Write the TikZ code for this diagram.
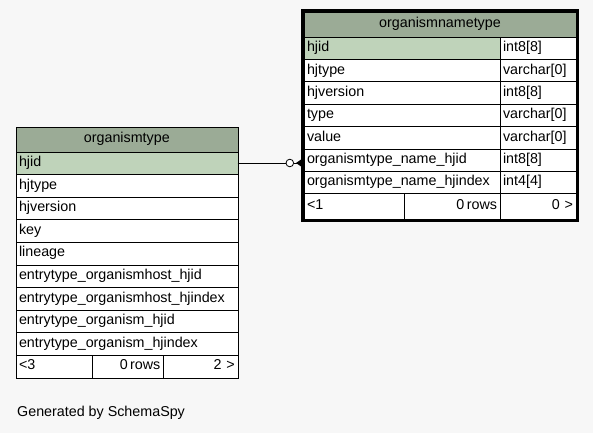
\documentclass[tikz,border=0pt]{standalone}
\usepackage{fontspec}
\setmainfont{Liberation Sans}
\usetikzlibrary{positioning}
\definecolor{hdrgreen}{RGB}{155,171,150}
\definecolor{pkgreen}{RGB}{191,211,186}
\definecolor{bggray}{RGB}{247,247,247}

\begin{document}
\begin{tikzpicture}[
  x=1pt, y=-1pt,
  cell/.style={draw, fill=white, inner xsep=3pt, inner ysep=0pt, outer sep=0pt,
    text height=10pt, text depth=3pt, align=left, font=\fontsize{14.3}{16}\selectfont},
  lhead/.style={cell, fill=hdrgreen, align=center, text width=215.7pt, minimum height=24.7pt},
  lrow/.style={cell, text width=215.7pt, minimum height=22.6pt},
  rhead/.style={cell, fill=hdrgreen, align=center, text width=266pt, minimum height=25pt},
  rname/.style={cell, text width=190pt, minimum height=22.35pt},
  rtype/.style={cell, text width=70pt, minimum height=22.35pt},
  foot/.style={cell, minimum height=#1},
  node distance=0pt
]
\fill[bggray] (0,0) rectangle (593,433);
\useasboundingbox (0,0) rectangle (593,433);

% organismtype
\node[lhead] (othdr) at (16,127) [anchor=north west] {organismtype};
\node[lrow, fill=pkgreen, below=of othdr] (otid)  {hjid};
\node[lrow, below=of otid]     (ottype)    {hjtype};
\node[lrow, below=of ottype]   (otver)     {hjversion};
\node[lrow, below=of otver]    (otkey)     {key};
\node[lrow, below=of otkey]    (otlin)     {lineage};
\node[lrow, below=of otlin]    (othostid)  {entrytype\_organismhost\_hjid};
\node[lrow, below=of othostid] (othostidx) {entrytype\_organismhost\_hjindex};
\node[lrow, below=of othostidx](otorgid)   {entrytype\_organism\_hjid};
\node[lrow, below=of otorgid]  (otorgidx)  {entrytype\_organism\_hjindex};
\node[foot=22.6pt, text width=69.7pt, anchor=north west] (otf1) at (otorgidx.south west) {<3};
\node[foot=22.6pt, text width=65.6pt, align=right, right=of otf1] (otf2) {0\,rows};
\node[foot=22.6pt, text width=68.4pt, align=right, right=of otf2] (otf3) {2 >};

% organismnametype
\node[rhead] (onhdr) at (304,12) [anchor=north west] {organismnametype};
\node[rname, fill=pkgreen, anchor=north west] (onid) at (onhdr.south west) {hjid};
\node[rname, below=of onid]    (ontype)  {hjtype};
\node[rname, below=of ontype]  (onver)   {hjversion};
\node[rname, below=of onver]   (onkind)  {type};
\node[rname, below=of onkind]  (onval)   {value};
\node[rname, below=of onval]   (onfk)    {organismtype\_name\_hjid};
\node[rname, below=of onfk]    (onfkidx) {organismtype\_name\_hjindex};
\node[rtype, right=of onid]    (onidt)     {int8[8]};
\node[rtype, right=of ontype]  (ontypet)   {varchar[0]};
\node[rtype, right=of onver]   (onvert)    {int8[8]};
\node[rtype, right=of onkind]  (onkindt)   {varchar[0]};
\node[rtype, right=of onval]   (onvalt)    {varchar[0]};
\node[rtype, right=of onfk]    (onfkt)     {int8[8]};
\node[rtype, right=of onfkidx] (onfkidxt)  {int4[4]};
\node[foot=26pt, text width=94pt, anchor=north west] (onf1) at (onfkidx.south west) {<1};
\node[foot=26pt, text width=90pt, align=right, right=of onf1] (onf2) {0\,rows};
\node[foot=26pt, text width=70pt, align=right, right=of onf2] (onf3) {0 >};
\draw[line width=2.6pt]
  ([xshift=-1.3pt, yshift=1.3pt]onhdr.north west) rectangle ([xshift=1.3pt, yshift=-1.3pt]onf3.south east);

% relationship
\coordinate (fkend) at (otid.east -| onfk.west);
\node[circle, draw, line width=0.8pt, fill=white, inner sep=0pt, minimum size=7.6pt, left=10pt of fkend] (oneopt) {};
\draw[line width=0.8pt] (otid.east) -- (oneopt.west);
\draw[line width=0.8pt] (oneopt.east) -- (fkend);
\fill ([xshift=-8pt]fkend) -- ([xshift=-1.5pt, yshift=4.5pt]fkend) -- ([xshift=-1.5pt, yshift=-4.5pt]fkend) -- cycle;

\node[font=\fontsize{14.3}{16}\selectfont, anchor=west, inner sep=0pt] (gen) at (17,413) {Generated by SchemaSpy};
\end{tikzpicture}
\end{document}
